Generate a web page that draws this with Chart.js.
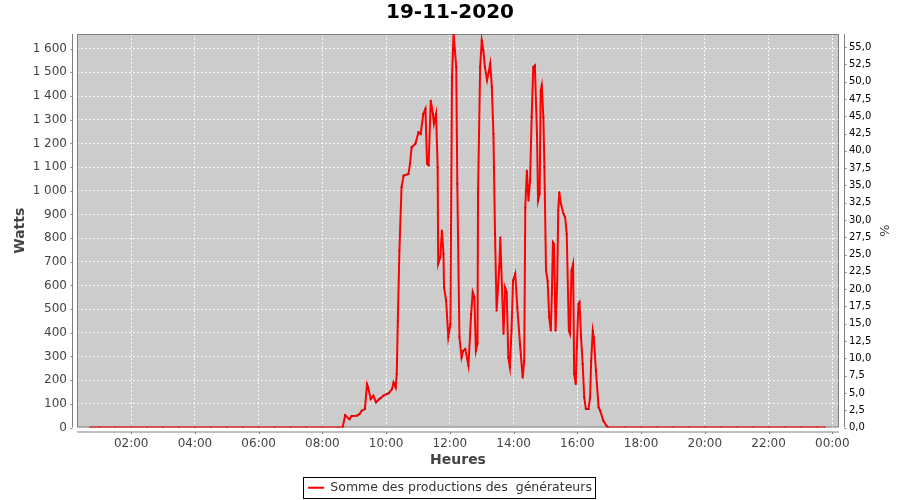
<!DOCTYPE html>
<html><head><meta charset="utf-8">
<script src="https://cdn.jsdelivr.net/npm/chart.js@4/dist/chart.umd.min.js"></script>
<style>html,body{margin:0;padding:0;background:#fff}</style>
</head><body>
<canvas id="c" width="900" height="500"></canvas>
<script>
const chartTitle = "19-11-2020";
const seriesName = "Somme des productions des  générateurs";
const xTitle = "Heures";
const yTitle = "Watts";
const y2Title = "%";

const times = ["00:43","01:00","01:30","02:00","02:30","03:00","03:30","04:00","04:30","05:00","05:30","06:00","06:30","07:00","07:30","08:00","08:30","08:38",
"08:43","08:51","08:55","09:05","09:10","09:14","09:20","09:24","09:26","09:31","09:36","09:41","09:46","09:50","09:55",
"10:01","10:05","10:11","10:14","10:18","10:20","10:22","10:25","10:29","10:33","10:42","10:45","10:48","10:55",
"11:01","11:05","11:10","11:14","11:17","11:20","11:24","11:28","11:30","11:34","11:37","11:38","11:42","11:45","11:48","11:49","11:53","11:57",
"12:01","12:04","12:07","12:12","12:14","12:18","12:22","12:25","12:29","12:35","12:40","12:43","12:46","12:49","12:52","12:53","12:57",
"13:00","13:03","13:06","13:10","13:13","13:16","13:19","13:22","13:25","13:28","13:33","13:35","13:41","13:44","13:47","13:50","13:53","13:56","13:59",
"14:03","14:07","14:12","14:17","14:20","14:22","14:25","14:28","14:31","14:34","14:37","14:40","14:44","14:46","14:49","14:51","14:53","14:56","14:58",
"15:01","15:04","15:07","15:10","15:12","15:14","15:16","15:19","15:22","15:24","15:26","15:29","15:34","15:37","15:40","15:44","15:46","15:49","15:52","15:54","15:57","15:59",
"16:02","16:04","16:07","16:10","16:13","16:16","16:21","16:24","16:26","16:29","16:31","16:35","16:40","16:43","16:49","16:55","16:58",
"17:30","18:00","18:30","19:00","19:30","20:00","20:30","21:00","21:30","22:00","22:30","23:00","23:30","23:46"];

const watts = [0,0,0,0,0,0,0,0,0,0,0,0,0,0,0,0,0,0,
52,35,49,50,57,71,78,183,170,120,134,106,118,125,135,
141,145,162,190,169,227,450,747,1015,1064,1071,1114,1184,1198,
1247,1240,1325,1346,1114,1108,1381,1325,1283,1325,1099,691,720,832,734,592,536,381,
438,1480,1663,1522,1029,381,296,324,331,261,479,571,550,324,354,987,1522,
1635,1593,1522,1466,1500,1537,1438,1240,818,493,677,803,395,592,571,296,254,409,620,
649,507,353,211,282,930,1085,958,1043,1311,1522,1529,1240,958,987,1423,1445,1311,1099,
663,620,465,409,564,782,775,409,606,916,994,945,902,888,818,409,396,663,691,226,183,338,
522,529,381,268,127,78,78,127,282,409,381,240,85,71,28,7,0,
0,0,0,0,0,0,0,0,0,0,0,0,0,0];

const xTickHours = [2,4,6,8,10,12,14,16,18,20,22,24];
const xMinHour = 0.30, xMaxHour = 24.21;
const wattMax = 1662, wattStep = 100;
const pctMax = 56.9, pctStep = 2.5;

function toHours(s){ const p = s.split(":"); return +p[0] + (+p[1])/60; }
function fmtHour(h){ const hh = Math.round(h) % 24; return (hh<10?"0":"")+hh+":00"; }
function fmtThousands(v){ return String(Math.round(v)).replace(/\B(?=(\d{3})+(?!\d))/g, " "); }

const points = times.map((t,i)=>({x: toHours(t), y: watts[i]}));

const FONT = "'DejaVu Sans', sans-serif";
const AXIS_COLOR = "#808080";

const decor = {
  id: 'decor',
  beforeDraw(chart){
    const {ctx, chartArea:a} = chart;
    ctx.save();
    ctx.fillStyle = '#cccccc';
    ctx.fillRect(a.left, a.top, a.right-a.left, a.bottom-a.top);
    ctx.restore();
  },
  beforeDatasetsDraw(chart){
    const {ctx, chartArea:a} = chart;
    ctx.save();
    ctx.strokeStyle = AXIS_COLOR; ctx.lineWidth = 1;
    ctx.strokeRect(a.left+0.5, a.top+0.5, a.right-a.left-1, a.bottom-a.top-1);
    ctx.restore();
  },
  afterDraw(chart){
    const {ctx, chartArea:a} = chart;
    ctx.save();
    ctx.strokeStyle = AXIS_COLOR; ctx.lineWidth = 1;
    const ys = chart.scales.y, xs = chart.scales.x, y2 = chart.scales.y2;
    const lx = a.left - 4.5, bx = a.bottom + 4.5, rx = a.right + 5.5;
    ctx.beginPath();
    ctx.moveTo(lx, a.top); ctx.lineTo(lx, a.bottom);
    ys.ticks.forEach(t=>{ const py = Math.round(ys.getPixelForValue(t.value))+0.5; ctx.moveTo(lx-2, py); ctx.lineTo(lx, py); });
    ctx.moveTo(a.left, bx); ctx.lineTo(a.right, bx);
    xs.ticks.forEach(t=>{ const px = Math.round(xs.getPixelForValue(t.value))+0.5; ctx.moveTo(px, bx); ctx.lineTo(px, bx+2); });
    ctx.moveTo(rx, a.top); ctx.lineTo(rx, a.bottom);
    y2.ticks.forEach(t=>{ const py = Math.round(y2.getPixelForValue(t.value))+0.5; ctx.moveTo(rx, py); ctx.lineTo(rx+2, py); });
    ctx.stroke();
    const lg = chart.legend;
    if (lg && lg.legendHitBoxes && lg.legendHitBoxes.length){
      const hb = lg.legendHitBoxes[0];
      ctx.strokeStyle = '#000'; ctx.lineWidth = 1;
      ctx.strokeRect(Math.round(hb.left)-4.5, Math.round(hb.top)-4.5, Math.round(hb.width)+8, Math.round(hb.height)+8);
    }
    ctx.restore();
  }
};

new Chart(document.getElementById('c'), {
  type: 'line',
  data: { datasets: [{
    label: seriesName,
    data: points,
    borderColor: '#ff0000',
    backgroundColor: '#ff0000',
    borderWidth: 2,
    pointRadius: 1.2,
    pointStyle: 'rect',
    pointBackgroundColor: '#cc0000',
    pointBorderWidth: 0,
    tension: 0,
    yAxisID: 'y'
  }]},
  options: {
    responsive: false,
    animation: false,
    layout: { padding: { left: 0, right: 0, top: 0, bottom: -4 } },
    plugins: {
      tooltip: { enabled: false },
      title: { display: true, text: chartTitle, color: '#000', font: { family: FONT, size: 20, weight: 'bold' }, padding: { top: 1, bottom: 9 } },
      legend: {
        position: 'bottom',
        labels: {
          font: { family: FONT, size: 12.5 }, color: '#333', boxWidth: 16, boxHeight: 2, padding: 10,
          generateLabels(chart){
            const items = Chart.defaults.plugins.legend.labels.generateLabels(chart);
            items.forEach(it=>{ it.lineWidth = 0; });
            return items;
          }
        }
      }
    },
    scales: {
      x: {
        type: 'linear', min: xMinHour, max: xMaxHour,
        afterBuildTicks(s){ s.ticks = xTickHours.map(v=>({value: v})); },
        afterFit(s){ s.height = 44; },
        ticks: { callback: v=>fmtHour(v), font: { family: FONT, size: 12 }, color: '#444', padding: 9, maxRotation: 0, autoSkip: false },
        grid: { color: 'rgba(255,255,255,0.9)', lineWidth: 1, drawTicks: false },
        border: { display: false, dash: [2,2] },
        title: { display: true, text: xTitle, color: '#444', font: { family: FONT, size: 14, weight: 'bold' }, padding: { top: 0, bottom: 2.6 } }
      },
      y: {
        type: 'linear', position: 'left', min: 0, max: wattMax,
        afterFit(s){ s.width = 77; },
        ticks: { stepSize: wattStep, includeBounds: false, callback: v=>fmtThousands(v), font: { family: FONT, size: 12 }, color: '#444', padding: 10 },
        grid: { color: 'rgba(255,255,255,0.9)', lineWidth: 1, drawTicks: false },
        border: { display: false, dash: [2,2] },
        title: { display: true, text: yTitle, color: '#444', font: { family: FONT, size: 14, weight: 'bold' }, padding: { top: 11.6, bottom: 0 } }
      },
      y2: {
        type: 'linear', position: 'right', min: 0, max: pctMax,
        afterFit(s){ s.width = 61; },
        ticks: { stepSize: pctStep, includeBounds: false, callback: v=>v.toFixed(1).replace('.', ','), font: { family: FONT, size: 10 }, color: '#000', padding: 10 },
        grid: { drawOnChartArea: false, drawTicks: false },
        border: { display: false },
        title: { display: true, text: y2Title, color: '#444', font: { family: FONT, size: 13 }, padding: { top: 9, bottom: 0 } }
      }
    }
  },
  plugins: [decor]
});
</script>
</body></html>
